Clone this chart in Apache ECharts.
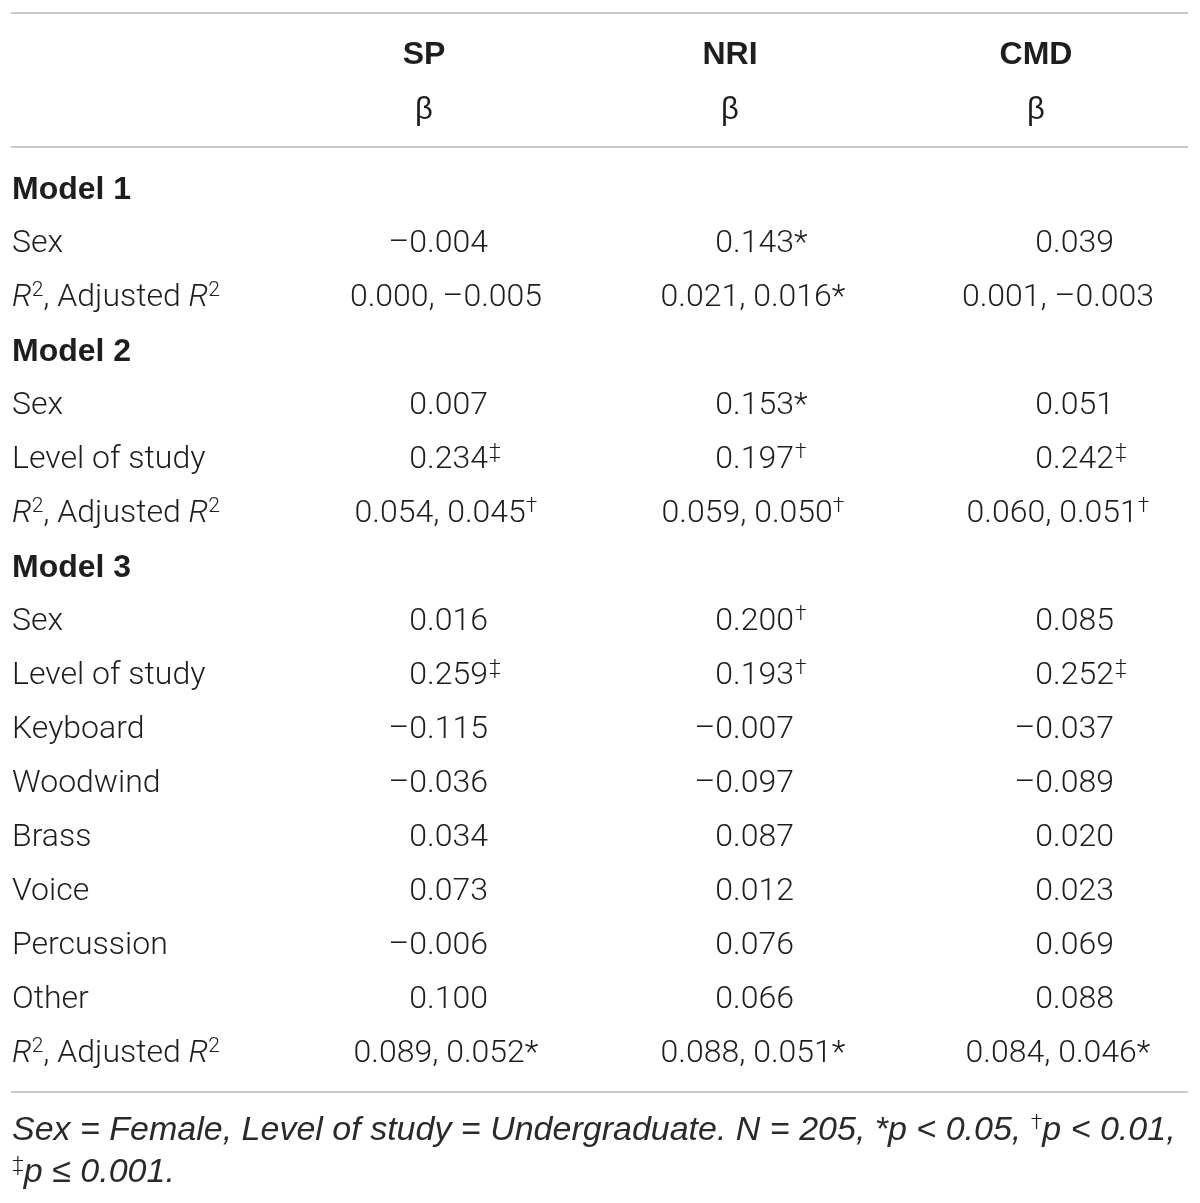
<!DOCTYPE html>
<html>
<head>
<meta charset="utf-8">
<script src="https://cdn.jsdelivr.net/npm/echarts@6/dist/echarts.min.js"></script>
<style>
html,body{margin:0;padding:0;background:#fff;}
#chart{width:1200px;height:1203px;}
</style>
</head>
<body>
<div id="chart"></div>
<script>
// ---- data ----
const columns = ['SP', 'NRI', 'CMD'];
const headerSub = ['β', 'β', 'β'];
const rowLabels = ['Model 1', 'Sex', 'R², Adjusted R²', 'Model 2', 'Sex', 'Level of study', 'R², Adjusted R²',
  'Model 3', 'Sex', 'Level of study', 'Keyboard', 'Woodwind', 'Brass', 'Voice', 'Percussion', 'Other', 'R², Adjusted R²'];
const spValues = ['', '–0.004', '0.000, –0.005', '', '0.007', '0.234‡', '0.054, 0.045†', '', '0.016', '0.259‡',
  '–0.115', '–0.036', '0.034', '0.073', '–0.006', '0.100', '0.089, 0.052*'];
const nriValues = ['', '0.143*', '0.021, 0.016*', '', '0.153*', '0.197†', '0.059, 0.050†', '', '0.200†', '0.193†',
  '–0.007', '–0.097', '0.087', '0.012', '0.076', '0.066', '0.088, 0.051*'];
const cmdValues = ['', '0.039', '0.001, –0.003', '', '0.051', '0.242‡', '0.060, 0.051†', '', '0.085', '0.252‡',
  '–0.037', '–0.089', '0.020', '0.023', '0.069', '0.088', '0.084, 0.046*'];
const footnoteLines = ['Sex = Female, Level of study = Undergraduate. N = 205, *p < 0.05, †p < 0.01,', '‡p ≤ 0.001.'];

// ---- layout ----
const W = 1200, H = 1203;
const FONT = 'Roboto, "Liberation Sans", Arial, sans-serif';
const FOOT = '"Liberation Sans", Arial, sans-serif';
const BOLD = '"Liberation Sans", Arial, sans-serif';
const FW = 300;
const TXT = '#1e1e1e';
const RULE = '#c9c9c9';
const headerX = [424, 730, 1036];
const singleRight = [488, 794, 1114];
const pairCenter = [446, 753, 1058];
const labelX = 12;
const row0 = 190, rowStep = 54;
const headY = [55, 110];
const rules = [13, 147, 1092];
const ruleX = [11, 1188];
const footY = [1131, 1173];

const rich = {
  it: {fontFamily: FONT, fontWeight: FW, fontSize: 32, fontStyle: 'italic', color: TXT},
  sup: {fontFamily: FONT, fontWeight: FW, fontSize: 21, color: TXT, padding: [0, 0, 14, 0]},
  i: {fontFamily: FOOT, fontWeight: 'normal', fontSize: 34, fontStyle: 'italic', color: '#2a2a2a'},
  fsup: {fontFamily: FONT, fontWeight: FW, fontSize: 21, color: TXT, padding: [0, 0, 14, 0]}
};
const baseLabel = {show: true, position: 'inside', verticalAlign: 'middle', fontFamily: FONT, fontWeight: FW,
  fontSize: 32, color: TXT, opacity: 1, rich: rich};

function richValue(s) {
  return s.replace(/([†‡])/g, '{sup|$1}');
}
function richRowLabel(s) {
  return s.split('R²').join('{it|R}{sup|2}');
}
function richFoot(s) {
  return s.split(/([†‡])/).filter(t => t.length).map(t => /[†‡]/.test(t) ? '{fsup|' + t + '}' : '{i|' + t + '}').join('');
}

const items = [];
function add(x, y, text, lab) {
  items.push({value: [x, y], label: Object.assign({}, baseLabel, {formatter: text}, lab || {})});
}
// headers
columns.forEach((c, j) => {
  add(headerX[j], headY[0], c, {align: 'center', fontWeight: 'bold', fontFamily: BOLD});
  add(headerX[j], headY[1], headerSub[j], {align: 'center', fontWeight: 'normal', fontFamily: BOLD, fontSize: 31});
});
// row labels
rowLabels.forEach((r, i) => {
  const y = row0 + i * rowStep;
  if (r.indexOf('Model') === 0) add(labelX, y, r, {align: 'left', fontWeight: 'bold', fontFamily: BOLD});
  else add(labelX, y, richRowLabel(r), {align: 'left'});
});
// values
[spValues, nriValues, cmdValues].forEach((vals, j) => {
  vals.forEach((v, i) => {
    if (!v) return;
    const y = row0 + i * rowStep;
    if (v.indexOf(',') >= 0) {
      add(pairCenter[j], y, richValue(v), {align: 'center'});
    } else {
      const m = v.match(/^(.*?)([*†‡]?)$/);
      add(singleRight[j], y, m[1], {align: 'right'});
      if (m[2]) {
        if (m[2] === '*') add(singleRight[j], y, '*', {align: 'left'});
        else add(singleRight[j] + 1, y, '{sup|' + m[2] + '}', {align: 'left', offset: [0, -9]});
      }
    }
  });
});
// footnote
footnoteLines.forEach((f, k) => add(labelX, footY[k], richFoot(f), {align: 'left'}));

const ruleData = [];
rules.forEach(y => { ruleData.push([ruleX[0], y], [ruleX[1], y], null); });

const chart = echarts.init(document.getElementById('chart'), null, {renderer: 'canvas'});
chart.setOption({
  animation: false,
  backgroundColor: '#fff',
  grid: {left: 0, right: 0, top: 0, bottom: 0},
  xAxis: {type: 'value', min: 0, max: W, show: false},
  yAxis: {type: 'value', min: 0, max: H, inverse: true, show: false},
  series: [
    {type: 'line', data: ruleData, connectNulls: false, symbol: 'none', lineStyle: {color: RULE, width: 2}, silent: true},
    {type: 'scatter', data: items, symbolSize: 0, silent: true, itemStyle: {opacity: 1}, labelLayout: {hideOverlap: false}}
  ]
});
</script>
</body>
</html>
